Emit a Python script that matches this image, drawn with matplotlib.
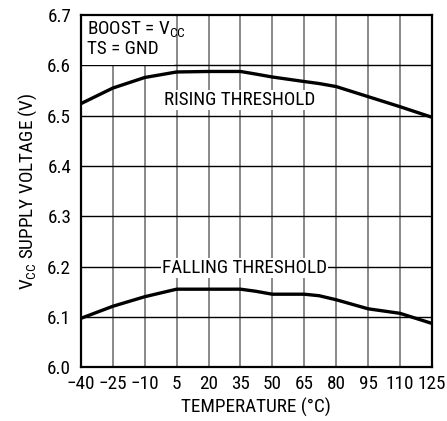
import numpy as np
import matplotlib.pyplot as plt
from matplotlib.patches import Rectangle

fonts = ['Roboto Condensed', 'Arial Narrow', 'Liberation Sans Narrow', 'Liberation Sans', 'DejaVu Sans']
plt.rcParams['font.family'] = fonts
plt.rcParams['mathtext.fontset'] = 'custom'
plt.rcParams['mathtext.rm'] = 'Roboto Condensed'

# data
temp = [-40, -25, -10, 5, 20, 35, 42, 50, 65, 72, 80, 95, 110, 125]
rising = [6.524, 6.555, 6.576, 6.587, 6.588, 6.588, 6.583, 6.577, 6.568, 6.564, 6.558, 6.538, 6.518, 6.497]
temp_f = [-40, -25, -10, 5, 20, 35, 42, 50, 65, 72, 80, 95, 110, 125]
falling = [6.097, 6.121, 6.140, 6.155, 6.155, 6.155, 6.151, 6.145, 6.145, 6.142, 6.134, 6.116, 6.107, 6.087]
xticks = [-40, -25, -10, 5, 20, 35, 50, 65, 80, 95, 110, 125]
yticks = [6.0, 6.1, 6.2, 6.3, 6.4, 6.5, 6.6, 6.7]

fs = 13.8

fig = plt.figure(figsize=(4.47, 4.21), dpi=100)
ax = fig.add_axes([0.181, 0.128, 0.785, 0.836])

ax.set_xlim(-40, 125)
ax.set_ylim(6.0, 6.7)
ax.set_xticks(xticks)
ax.set_yticks(yticks)
ax.set_xticklabels([str(t).replace('-', '\u2212') for t in xticks], fontsize=fs)
ax.set_yticklabels(['%.1f' % v for v in yticks], fontsize=fs)
ax.tick_params(length=0)
ax.tick_params(axis='x', pad=6)
ax.tick_params(axis='y', pad=7)

for x in xticks[1:-1]:
    ax.axvline(x, color='#808080', lw=1.3, zorder=1)
for y in yticks[1:-1]:
    ax.axhline(y, color='black', lw=1.0, zorder=1)

for s in ax.spines.values():
    s.set_linewidth(1.6)

ax.plot(temp, rising, color='black', lw=2.4, zorder=3)
ax.plot(temp_f, falling, color='black', lw=2.4, zorder=3)

# white box behind the conditions text
ax.add_patch(Rectangle((-40, 6.6), 44, 0.1, facecolor='white', edgecolor='none', zorder=2))
ax.text(-37, 6.69, 'BOOST = V$_{\\mathregular{CC}}$\nTS = GND', fontsize=fs,
        va='top', ha='left', linespacing=1.0, zorder=4)

ax.text(34.7, 6.531, 'RISING THRESHOLD', fontsize=fs, ha='center', va='center', zorder=4,
        bbox=dict(facecolor='white', edgecolor='none', pad=1))
ax.text(37, 6.197, 'FALLING THRESHOLD', fontsize=fs, ha='center', va='center', zorder=4,
        bbox=dict(facecolor='white', edgecolor='none', pad=1))

ax.set_xlabel('TEMPERATURE (\u00b0C)', fontsize=fs, labelpad=3)
ax.set_ylabel('V$_{\\mathregular{CC}}$ SUPPLY VOLTAGE (V)', fontsize=fs, labelpad=6)

plt.savefig('out.png', dpi=100)
